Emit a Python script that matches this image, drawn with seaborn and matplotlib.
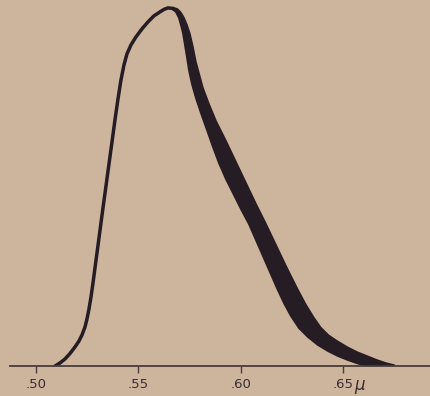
import numpy as np
import pandas as pd
import matplotlib
matplotlib.use("Agg")
import matplotlib.pyplot as plt
import seaborn as sns

# rising (short-wave) side of the curve, up to the peak -- shared by both edges
rise_wl = [0.50928, 0.51172, 0.51417, 0.51661, 0.51905, 0.52101, 0.52247, 0.52394,
           0.52491, 0.52589, 0.52687, 0.52785, 0.52882, 0.52980, 0.53078, 0.53175,
           0.53273, 0.53420, 0.53566, 0.53713, 0.53859, 0.54006, 0.54152, 0.54299,
           0.54445, 0.54641, 0.54885, 0.55178, 0.55471, 0.55764, 0.56058, 0.56253,
           0.56449]
rise_h = [0.0, 0.0084, 0.0196, 0.0349, 0.0531, 0.0698, 0.0866, 0.1089,
          0.1313, 0.1592, 0.1927, 0.2318, 0.2737, 0.3156, 0.3575, 0.3994,
          0.4413, 0.5028, 0.5642, 0.6257, 0.6872, 0.7458, 0.7989, 0.8408,
          0.8715, 0.8966, 0.9190, 0.9413, 0.9609, 0.9777, 0.9888, 0.9958,
          1.0]

# falling side: outer (upper) edge of the band
outer_wl = [0.56693, 0.56888, 0.57035, 0.57181, 0.57328, 0.57474, 0.57621, 0.57767,
            0.58109, 0.58402, 0.58744, 0.59233, 0.59722, 0.60210, 0.60699, 0.61187,
            0.61676, 0.62164, 0.62750, 0.63141, 0.63532, 0.63874, 0.64265, 0.64704,
            0.65193, 0.65681, 0.66170, 0.66658, 0.67098, 0.67489]
outer_h = [0.9986, 0.9944, 0.9860, 0.9721, 0.9525, 0.9274, 0.8911, 0.8492,
           0.7765, 0.7318, 0.6844, 0.6285, 0.5698, 0.5112, 0.4525, 0.3966,
           0.3380, 0.2793, 0.2123, 0.1704, 0.1341, 0.1061, 0.0838, 0.0670,
           0.0503, 0.0363, 0.0251, 0.0140, 0.0056, 0.0]

# falling side: inner (lower) edge of the band
inner_wl = [0.56644, 0.56839, 0.56986, 0.57083, 0.57181, 0.57279, 0.57376, 0.57474,
            0.57621, 0.57816, 0.58060, 0.58354, 0.58647, 0.58940, 0.59282, 0.59624,
            0.60015, 0.60405, 0.60747, 0.61089, 0.61431, 0.61773, 0.62115, 0.62457,
            0.62848, 0.63288, 0.63776, 0.64265, 0.64753, 0.65242, 0.65730, 0.66219]
inner_h = [0.9972, 0.9888, 0.9721, 0.9525, 0.9302, 0.8966, 0.8631, 0.8268,
           0.7877, 0.7486, 0.7067, 0.6592, 0.6117, 0.5670, 0.5223, 0.4832,
           0.4385, 0.3966, 0.3520, 0.3073, 0.2626, 0.2179, 0.1760, 0.1397,
           0.1061, 0.0810, 0.0587, 0.0419, 0.0279, 0.0168, 0.0070, 0.0]

tick_pos = [0.50, 0.55, 0.60, 0.65]
tick_labels = [".50", ".55", ".60", ".65"]

PAPER = "#ccb49d"
INK = "#261c24"
AXIS = "#4a3c3a"

upper_df = pd.DataFrame({"wavelength": rise_wl + outer_wl, "response": rise_h + outer_h})
lower_df = pd.DataFrame({"wavelength": rise_wl + inner_wl, "response": rise_h + inner_h})

sns.set_theme(style="white", rc={"axes.facecolor": PAPER, "figure.facecolor": PAPER})
plt.rcParams["font.family"] = ["DejaVu Sans"]

fig = plt.figure(figsize=(4.3, 3.96), dpi=100)
ax = fig.add_axes([10 / 430, 30 / 396, 420 / 430, 366 / 396])

# dark band between the two edges of the falling side
band_x = outer_wl + inner_wl[::-1]
band_y = outer_h + inner_h[::-1]
ax.fill(band_x, band_y, color=INK, linewidth=0)

sns.lineplot(data=upper_df, x="wavelength", y="response", ax=ax, color=INK,
             linewidth=2.5, sort=False, solid_joinstyle="round", solid_capstyle="round")
sns.lineplot(data=lower_df, x="wavelength", y="response", ax=ax, color=INK,
             linewidth=1.4, sort=False, solid_joinstyle="round", solid_capstyle="round")

ax.set_xlim(0.4873, 0.6925)
ax.set_ylim(0, 1.022)

for side in ["top", "right", "left"]:
    ax.spines[side].set_visible(False)
ax.spines["bottom"].set_color(AXIS)
ax.spines["bottom"].set_linewidth(1.3)
ax.spines["bottom"].set_zorder(5)

ax.set_xticks(tick_pos)
ax.set_xticklabels(tick_labels, fontsize=9.5, color="#3a2e30")
ax.tick_params(axis="x", direction="out", length=5, width=1.0, color=AXIS, pad=4,
               bottom=True)
ax.set_yticks([])
ax.set_xlabel("")
ax.set_ylabel("")

# micron sign that follows the last tick label
ax.text(0.6555, -0.028, "μ", transform=ax.transData, fontsize=12, style="italic",
        color="#3a2e30", ha="left", va="top", clip_on=False)

fig.savefig("out.png", dpi=100, facecolor=PAPER)
